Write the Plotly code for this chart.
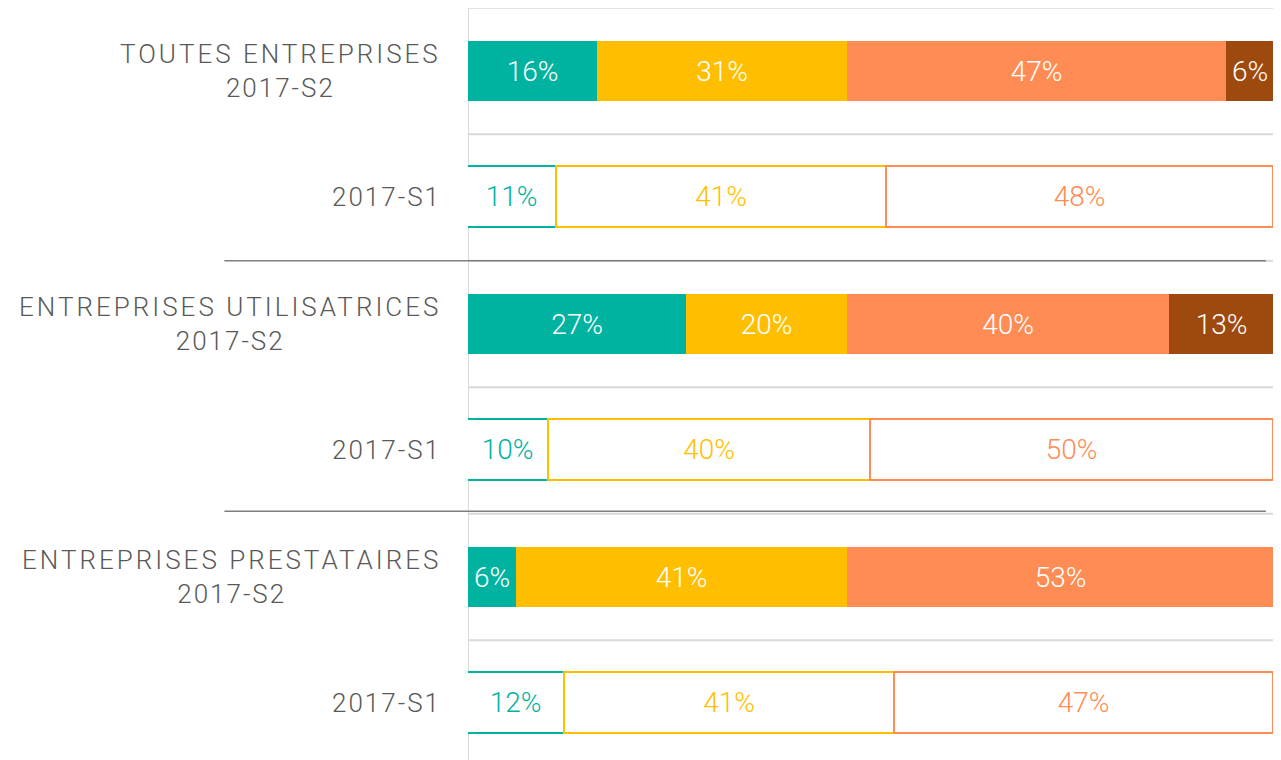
import plotly.graph_objects as go

rows_name = ["TOUTES ENTREPRISES", None, "ENTREPRISES UTILISATRICES", None,
             "ENTREPRISES PRESTATAIRES", None]
rows_period = ["2017-S2", "2017-S1", "2017-S2", "2017-S1", "2017-S2", "2017-S1"]
filled = [True, False, True, False, True, False]

seg1 = [16, 11, 27, 10, 6, 12]
seg2 = [31, 41, 20, 40, 41, 41]
seg3 = [47, 48, 40, 50, 53, 47]
seg4 = [6, None, 13, None, None, None]

series = [seg1, seg2, seg3, seg4]
colors = ["#00B3A1", "#FFBF00", "#FF8B55", "#9E4A0E"]

FONT = "Roboto, Arial, sans-serif"
ypos = list(range(len(rows_period)))

fig = go.Figure()
for vals, col in zip(series, colors):
    fig.add_trace(go.Bar(
        x=vals, y=ypos, orientation="h", width=0.475,
        marker=dict(color=[col if f else "white" for f in filled],
                    line=dict(color=[col] * len(ypos),
                              width=[0 if f else 1.8 for f in filled])),
        texttemplate="%{x}%", textposition="inside", insidetextanchor="middle",
        constraintext="none",
        textfont=dict(family=FONT, size=28, weight=300,
                      color=["white" if f else col for f in filled]),
        hoverinfo="skip", showlegend=False, cliponaxis=False,
    ))

shapes = []
for i in range(len(ypos)):
    shapes.append(dict(type="line", xref="x", yref="y", x0=0, x1=100,
                       y0=i - 0.5, y1=i - 0.5,
                       line=dict(color="#D9D9D9", width=2), layer="below"))
shapes.append(dict(type="line", xref="x", yref="paper", x0=0, x1=0, y0=0, y1=1,
                   line=dict(color="#D9D9D9", width=2), layer="below"))
for yv in [1.5, 3.48]:
    shapes.append(dict(type="line", xref="paper", yref="y", x0=-0.3023, x1=0.99,
                       y0=yv, y1=yv, line=dict(color="#7F7F7F", width=1.5)))

annotations = []
for i, (name, period) in enumerate(zip(rows_name, rows_period)):
    per = '<span style="letter-spacing:2px">' + period + '</span>'
    if name:
        txt = '<span style="letter-spacing:3px">' + name + '</span><br>' + per
    else:
        txt = per
    annotations.append(dict(xref="paper", yref="y", x=0, y=i, xanchor="right",
                            yanchor="middle", xshift=-25, text=txt, align="center",
                            showarrow=False,
                            font=dict(family=FONT, size=26, weight=300, color="#595959")))

fig.update_layout(
    width=1273, height=752,
    margin=dict(l=460, r=7, t=0, b=0),
    barmode="stack", bargap=0,
    plot_bgcolor="white", paper_bgcolor="white",
    xaxis=dict(range=[0, 100], visible=False, showgrid=False, zeroline=False),
    yaxis=dict(range=[5.447, -0.498], visible=False, showgrid=False, zeroline=False),
    shapes=shapes, annotations=annotations,
)

fig.write_html("out.html")
